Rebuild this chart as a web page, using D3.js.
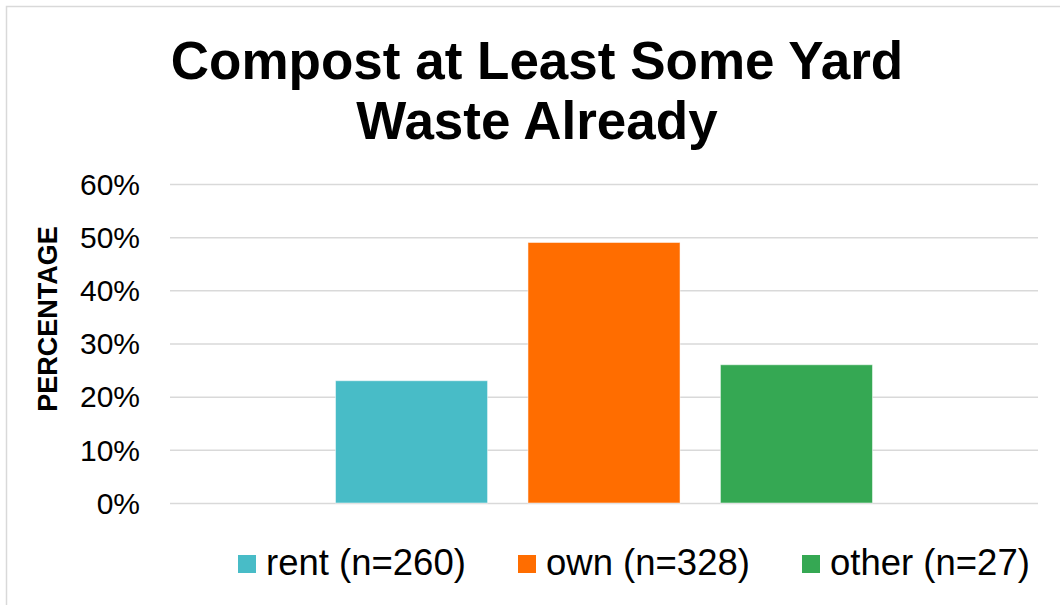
<!DOCTYPE html>
<html>
<head>
<meta charset="utf-8">
<script src="https://cdn.jsdelivr.net/npm/d3@7"></script>
<style>
  body { margin: 0; background: #fff; }
  text { font-family: 'Liberation Sans', Arial, sans-serif; }
</style>
</head>
<body>
<svg width="1060" height="605"></svg>
<script>
let series = ['rent (n=260)', 'own (n=328)', 'other (n=27)']
let values = [0.23, 0.49, 0.26]
let colors = ['#48BCC7', '#FF6D00', '#35A853']
let yTicks = [0, 0.1, 0.2, 0.3, 0.4, 0.5, 0.6]
let titleLines = ['Compost at Least Some Yard', 'Waste Already']

let svg = d3.select('svg')

// chart frame (cut off right and bottom like the screenshot)
svg.append('rect')
  .attr('x', 6.5).attr('y', 6.5)
  .attr('width', 1100).attr('height', 700)
  .attr('fill', '#fff')
  .attr('stroke', '#d9d9d9')
  .attr('stroke-width', 1.5)

let x = d3.scaleBand()
  .domain(series)
  .range([170, 1038])
  .paddingInner(0.21)
  .paddingOuter(0.86)

let y = d3.scaleLinear()
  .domain([0, 0.6])
  .range([503, 184])

// gridlines + tick labels
let yAxis = svg.append('g')
  .attr('transform', 'translate(170,0)')
  .call(d3.axisLeft(y)
    .tickValues(yTicks)
    .tickFormat(d3.format('.0%'))
    .tickSize(-868)
    .tickPadding(30))
yAxis.select('.domain').remove()
yAxis.selectAll('.tick line')
  .attr('stroke', '#d9d9d9')
  .attr('stroke-width', 1.5)
yAxis.selectAll('.tick text')
  .attr('fill', '#000')
  .style('font-size', '30px')
  .attr('dy', '0.34em')

// bars
svg.append('g')
  .selectAll('rect')
  .data(series)
  .join('rect')
  .attr('x', d => x(d))
  .attr('y', (d, i) => y(values[i]))
  .attr('width', x.bandwidth())
  .attr('height', (d, i) => y(0) - y(values[i]))
  .attr('fill', (d, i) => colors[i])
  .attr('stroke', 'rgba(255,255,255,0.5)')
  .attr('stroke-width', 1)

// title
svg.append('text')
  .attr('text-anchor', 'middle')
  .style('font-size', '53px')
  .style('font-weight', 'bold')
  .selectAll('tspan')
  .data(titleLines)
  .join('tspan')
  .attr('x', 537)
  .attr('y', (d, i) => 79 + i * 60)
  .text(d => d)

// y axis title
svg.append('text')
  .attr('transform', 'translate(57,319) rotate(-90)')
  .attr('text-anchor', 'middle')
  .style('font-size', '27px')
  .style('font-weight', 'bold')
  .text('PERCENTAGE')

// legend
let legendX = [238, 518, 802]
let legend = svg.append('g')
  .selectAll('g')
  .data(series)
  .join('g')
  .attr('transform', (d, i) => `translate(${legendX[i]},555)`)
legend.append('rect')
  .attr('width', 18).attr('height', 18)
  .attr('fill', (d, i) => colors[i])
legend.append('text')
  .attr('x', 28)
  .attr('y', 20)
  .style('font-size', '36.5px')
  .text(d => d)
</script>
</body>
</html>
